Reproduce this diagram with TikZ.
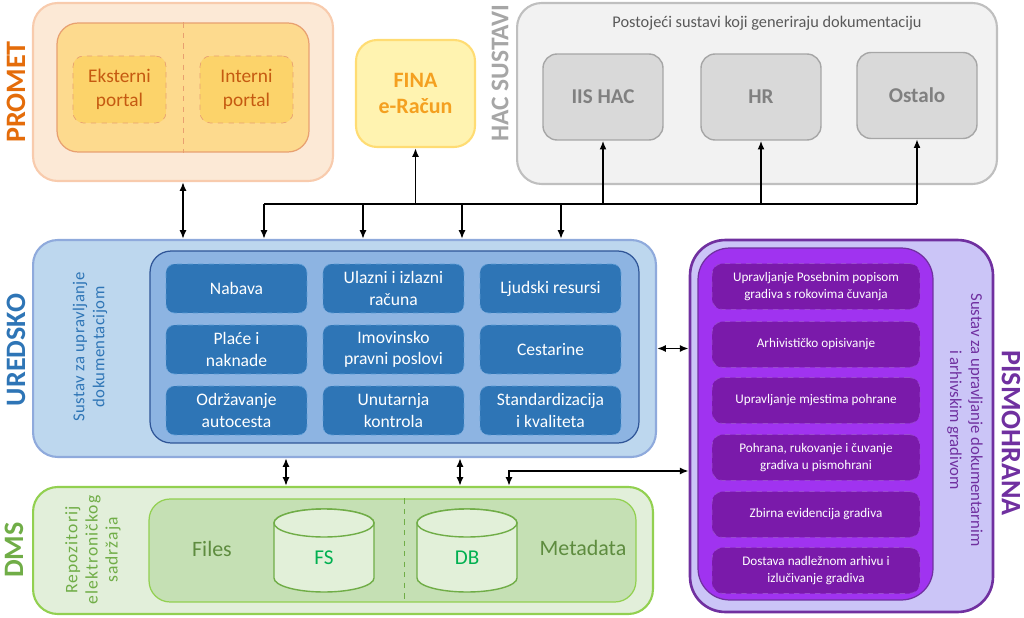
\documentclass[tikz,border=0pt]{standalone}
\usepackage{fontspec}
\setmainfont{Carlito}
\usetikzlibrary{arrows.meta}

\definecolor{promfill}{HTML}{FCE9D6}
\definecolor{promline}{HTML}{F8CBAD}
\definecolor{prominner}{HTML}{FDDA8E}
\definecolor{promdark}{HTML}{E8A070}
\definecolor{portfill}{HTML}{FCD36A}
\definecolor{porttext}{HTML}{C55A11}
\definecolor{promlab}{HTML}{E46C0A}
\definecolor{finafill}{HTML}{FFF3B0}
\definecolor{finaline}{HTML}{FFDC73}
\definecolor{finatext}{HTML}{F4A020}
\definecolor{hacfill}{HTML}{F2F2F2}
\definecolor{hacline}{HTML}{BFBFBF}
\definecolor{hacbfill}{HTML}{D9D9D9}
\definecolor{hacbline}{HTML}{A6A6A6}
\definecolor{hactext}{HTML}{808080}
\definecolor{hactitle}{HTML}{595959}
\definecolor{uredfill}{HTML}{BDD7EE}
\definecolor{uredline}{HTML}{8FAADC}
\definecolor{uredinner}{HTML}{8DB4E2}
\definecolor{ureddark}{HTML}{2F5597}
\definecolor{celblue}{HTML}{2E75B6}
\definecolor{celline}{HTML}{5B9BD5}
\definecolor{pisfill}{HTML}{CBC5F7}
\definecolor{pisline}{HTML}{7030A0}
\definecolor{pisinner}{HTML}{A033F0}
\definecolor{pcell}{HTML}{7A1AAA}
\definecolor{pcelline}{HTML}{9A4AD0}
\definecolor{dmsfill}{HTML}{E2EFDA}
\definecolor{dmsline}{HTML}{92D050}
\definecolor{dmsinner}{HTML}{C5E0B4}
\definecolor{dbfill}{HTML}{E2F0D9}
\definecolor{dbline}{HTML}{70AD47}
\definecolor{dbtext}{HTML}{00B050}
\definecolor{dmstext}{HTML}{5E8C3F}
\definecolor{dmslab}{HTML}{70AD47}

\tikzset{
  outerbox/.style={draw, rounded corners=14pt, line width=1.2pt, inner sep=0pt},
  innerbox/.style={draw, rounded corners=12pt, line width=0.7pt, inner sep=0pt},
  portal/.style={draw=promdark, dashed, fill=portfill, rounded corners=6pt, inner sep=0pt,
    minimum width=1.86cm, minimum height=1.34cm, align=center, text=porttext,
    font=\fontsize{11}{13.5}\selectfont},
  hacbox/.style={draw=hacbline, fill=hacbfill, rounded corners=8pt, line width=0.8pt, inner sep=0pt,
    minimum width=2.4cm, minimum height=1.72cm, text=hactext, font=\bfseries\fontsize{12}{14}\selectfont},
  cell/.style={draw=celline, dashed, fill=celblue, rounded corners=5pt, inner sep=0pt,
    minimum width=2.82cm, minimum height=0.98cm, align=center, text=white,
    font=\fontsize{10}{12}\selectfont},
  pcellbox/.style={draw=pcelline, dashed, fill=pcell, rounded corners=6pt, inner sep=0pt,
    minimum width=4.16cm, minimum height=0.92cm, align=center, text=white,
    font=\fontsize{7.5}{9.5}\selectfont},
  dbshape/.style={draw=dbline, fill=dbfill, line width=0.8pt},
  sidelabel/.style={font=\bfseries\fontsize{16}{18}\selectfont},
}

\begin{document}
\begin{tikzpicture}[x=0.02cm,y=-0.02cm,>={Latex[length=5pt,width=4pt]}]
\useasboundingbox (0,0) rectangle (1024,618);

% PROMET
\node[outerbox, fill=promfill, draw=promline, minimum width=6cm, minimum height=3.56cm] (promet) at (183,92) {};
\node[innerbox, fill=prominner, draw=promdark, minimum width=5.04cm, minimum height=2.58cm] (portali) at (183,87.5) {};
\draw[dashed, promdark] (portali.north) -- (portali.south);
\node[portal] (eksterni) at (119.5,89.5) {Eksterni\\portal};
\node[portal] (interni) at (246.5,89.5) {Interni\\portal};
\node[sidelabel, rotate=90, text=promlab] (promlabel) at (16,92) {PROMET};

% FINA
\node[draw=finaline, fill=finafill, rounded corners=12pt, line width=1.2pt, inner sep=0pt,
  minimum width=2.38cm, minimum height=2.14cm, align=center, text=finatext,
  font=\bfseries\fontsize{12.5}{15}\selectfont] (fina) at (415.5,93.5) {FINA\\e-Račun};

% HAC sustavi
\node[outerbox, fill=hacfill, draw=hacline, minimum width=9.6cm, minimum height=3.62cm] (hac) at (757,93.5) {};
\node[text=hactitle, font=\fontsize{9.3}{11}\selectfont] (hactitle) at (767,23) {Postojeći sustavi koji generiraju dokumentaciju};
\node[hacbox] (iis) at (603,97) {IIS HAC};
\node[hacbox] (hr) at (761,97) {HR};
\node[hacbox] (ostalo) at (917,95.5) {Ostalo};
\node[sidelabel, rotate=90, text=hacbline, font=\bfseries\fontsize{14.5}{16}\selectfont] (haclabel) at (500,73) {HAC SUSTAVI};

% UREDSKO
\node[outerbox, fill=uredfill, draw=uredline, minimum width=12.46cm, minimum height=4.34cm] (uredsko) at (344.5,348.5) {};
\node[innerbox, fill=uredinner, draw=ureddark, minimum width=9.78cm, minimum height=3.84cm] (moduli) at (394.5,347) {};
\node[cell] (nabava) at (236.5,288.5) {Nabava};
\node[cell] (racuni) at (393.5,288.5) {Ulazni i izlazni\\računa};
\node[cell] (resursi) at (550.5,288.5) {Ljudski resursi};
\node[cell] (place) at (236.5,349.5) {Plaće i\\naknade};
\node[cell] (imovina) at (393.5,349.5) {Imovinsko\\pravni poslovi};
\node[cell] (cestarine) at (550.5,349.5) {Cestarine};
\node[cell] (odrzavanje) at (236.5,410.5) {Održavanje\\autocesta};
\node[cell] (kontrola) at (393.5,410.5) {Unutarnja\\kontrola};
\node[cell] (kvaliteta) at (550.5,410.5) {Standardizacija\\i kvaliteta};
\node[rotate=90, align=center, text=celblue, font=\fontsize{9.5}{11.5}\selectfont\addfontfeatures{LetterSpace=3}] (uredsustav) at (90,347) {Sustav za upravljanje\\dokumentacijom};
\node[sidelabel, rotate=90, text=celblue] (uredlabel) at (16,350) {UREDSKO};

% PISMOHRANA
\node[outerbox, fill=pisfill, draw=pisline, line width=1.5pt, rounded corners=20pt, minimum width=6.06cm, minimum height=7.44cm] (pismo) at (841.5,426) {};
\node[innerbox, fill=pisinner, draw=pisline, rounded corners=18pt, minimum width=4.7cm, minimum height=7.04cm] (arhiv) at (815.5,424) {};
\node[pcellbox] (popis) at (816,286.5) {Upravljanje Posebnim popisom\\gradiva s rokovima čuvanja};
\node[pcellbox] (opis) at (816,344.5) {Arhivističko opisivanje};
\node[pcellbox] (mjesta) at (816,400.5) {Upravljanje mjestima pohrane};
\node[pcellbox] (pohrana) at (816,457.5) {Pohrana, rukovanje i čuvanje\\gradiva u pismohrani};
\node[pcellbox] (evidencija) at (816,514.5) {Zbirna evidencija gradiva};
\node[pcellbox] (dostava) at (816,570.5) {Dostava nadležnom arhivu i\\izlučivanje gradiva};
\node[rotate=-90, align=center, text=pisline, font=\fontsize{9.5}{12}\selectfont] (pismosustav) at (965,420) {Sustav za upravljanje dokumentarnim\\i arhivskim gradivom};
\node[sidelabel, rotate=-90, text=pisline] (pismolabel) at (1011,433) {PISMOHRANA};

% DMS
\node[outerbox, fill=dmsfill, draw=dmsline, minimum width=12.4cm, minimum height=2.54cm] (dms) at (343,550.5) {};
\node[innerbox, fill=dmsinner, draw=dmsline, minimum width=9.74cm, minimum height=2.06cm] (repo) at (392.5,550.5) {};
\draw[dashed, dbline] (404,0 |- repo.north) -- (404,0 |- repo.south);
% baze (valjci)
\foreach \cx/\ime/\txt in {324/fs/FS, 467/dbase/DB} {
  \draw[dbshape] (\cx-50,523) -- (\cx-50,578) arc[start angle=180, end angle=0, x radius=50, y radius=14]
    -- (\cx+50,523) arc[start angle=0, end angle=-180, x radius=50, y radius=14] -- cycle;
  \draw[dbshape] (\cx,523) ellipse [x radius=50, y radius=14];
  \node[text=dbtext, font=\fontsize{12}{14}\selectfont] (\ime) at (\cx,558) {\txt};
}
\node[text=dmstext, font=\fontsize{12.5}{15}\selectfont] (files) at (212,549) {Files};
\node[text=dmstext, font=\fontsize{12.5}{15}\selectfont] (metadata) at (583,548) {Metadata};
\node[rotate=90, align=center, text=dmslab, font=\fontsize{10}{11.5}\selectfont\addfontfeatures{LetterSpace=6}] (repotext) at (93,550) {Repozitorij\\elektroničkog\\sadržaja};
\node[sidelabel, rotate=90, text=dmslab] (dmslabel) at (14,550) {DMS};

% veze
\draw[<->, line width=1pt] (promet.south) -- (promet.south |- uredsko.north);
\coordinate (busL) at (264,204);
\coordinate (busR) at (917,204);
\draw[line width=1pt] (busL) -- (busR);
\foreach \x in {264,363,462,561} \draw[->, line width=1pt] (\x,204) -- (\x,0 |- uredsko.north);
\foreach \n in {fina,iis,hr,ostalo} \draw[->, line width=1pt] (\n.south |- busL) -- (\n.south);
\draw[<->, line width=1pt] (uredsko.east) -- (uredsko.east -| pismo.west);
\foreach \x in {286,460} \draw[<->, line width=1pt] (\x,0 |- uredsko.south) -- (\x,0 |- dms.north);
\draw[<->, line width=1pt] (pismo.west |- 0,471) -- (509,471) -- (509,0 |- dms.north);

\end{tikzpicture}
\end{document}
